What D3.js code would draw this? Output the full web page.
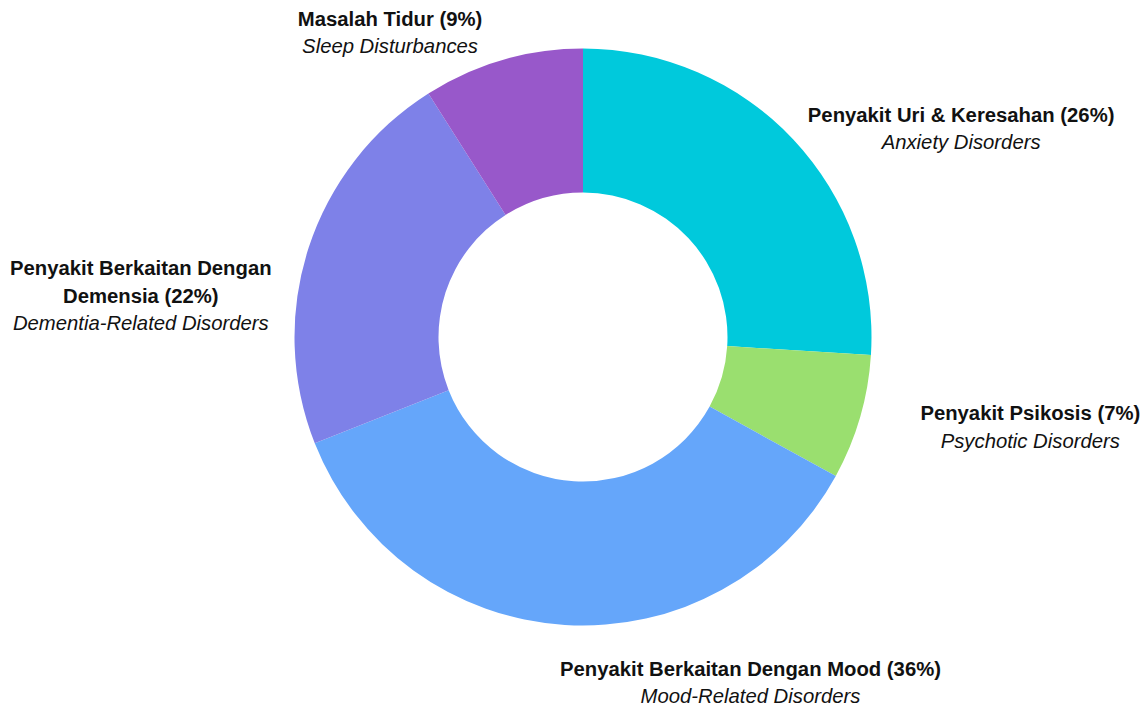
<!DOCTYPE html>
<html>
<head>
<meta charset="utf-8">
<script src="https://cdn.jsdelivr.net/npm/d3@7"></script>
<style>
  body { margin: 0; background: #fff; }
  svg { display: block; }
</style>
</head>
<body>
<div id="chart"></div>
<script>
// data, clockwise from 12 o'clock
var labelsMs = ["Penyakit Uri & Keresahan", "Penyakit Psikosis", "Penyakit Berkaitan Dengan Mood", "Penyakit Berkaitan Dengan Demensia", "Masalah Tidur"];
var labelsEn = ["Anxiety Disorders", "Psychotic Disorders", "Mood-Related Disorders", "Dementia-Related Disorders", "Sleep Disturbances"];
var shares = [26, 7, 36, 22, 9];
var colors = ["#00C9DC", "#9ADF6F", "#65A6FA", "#7E81E8", "#9858CA"];

var width = 1144, height = 708;
var cx = 583, cy = 337,
    outerRadius = 288.5,
    innerRadius = 144.5,
    labelRadius = 318;

// hand nudges so labels sit where the original put them
var nudge = [[-7, 9], [32, 1], [-3, 28], [-9, 57], [-12, 1]];
// which side of the anchor point the label block goes
var side = ["start", "start", "start", "end", "end"];
// lines of bold text per label (dementia wraps)
var boldLines = [
  [labelsMs[0] + " (" + shares[0] + "%)"],
  [labelsMs[1] + " (" + shares[1] + "%)"],
  [labelsMs[2] + " (" + shares[2] + "%)"],
  ["Penyakit Berkaitan Dengan", "Demensia (" + shares[3] + "%)"],
  [labelsMs[4] + " (" + shares[4] + "%)"]
];

var data = shares.map(function (v, i) { return { i: i, value: v }; });

var svg = d3.select("#chart")
    .append("svg")
    .attr("width", width)
    .attr("height", height);

var g = svg.append("g")
    .attr("transform", "translate(" + cx + "," + cy + ")");

var pie = d3.pie()
    .sort(null)
    .value(function (d) { return d.value; });

var arc = d3.arc()
    .innerRadius(innerRadius)
    .outerRadius(outerRadius);

var labelArc = d3.arc()
    .innerRadius(labelRadius)
    .outerRadius(labelRadius);

var arcs = pie(data);

g.append("g")
    .selectAll("path")
    .data(arcs)
    .enter()
    .append("path")
    .attr("d", arc)
    .attr("fill", function (d) { return colors[d.data.i]; });

var lineH = 27.5, fontSize = 20.3;

var labels = g.append("g")
    .selectAll("text")
    .data(arcs)
    .enter()
    .append("text")
    .style("font-family", "Arial, 'Liberation Sans', sans-serif")
    .style("font-size", fontSize + "px")
    .attr("fill", "#111")
    .attr("text-anchor", "middle");

labels.each(function (d) {
    var i = d.data.i;
    var t = d3.select(this);
    var lines = boldLines[i].map(function (s) { return { s: s, italic: false }; })
        .concat([{ s: labelsEn[i], italic: true }]);
    var n = lines.length;
    lines.forEach(function (l, k) {
        t.append("tspan")
            .attr("x", 0)
            .attr("y", (k - (n - 1) / 2) * lineH)
            .attr("dy", "0.35em")
            .style("font-weight", l.italic ? "normal" : "bold")
            .style("font-style", l.italic ? "italic" : "normal")
            .text(l.s);
    });
    var w = this.getBBox().width;
    var p = labelArc.centroid(d);
    var x = p[0] + nudge[i][0] + (side[i] === "start" ? w / 2 : -w / 2);
    var y = p[1] + nudge[i][1];
    t.attr("transform", "translate(" + x + "," + y + ")");
});
</script>
</body>
</html>
